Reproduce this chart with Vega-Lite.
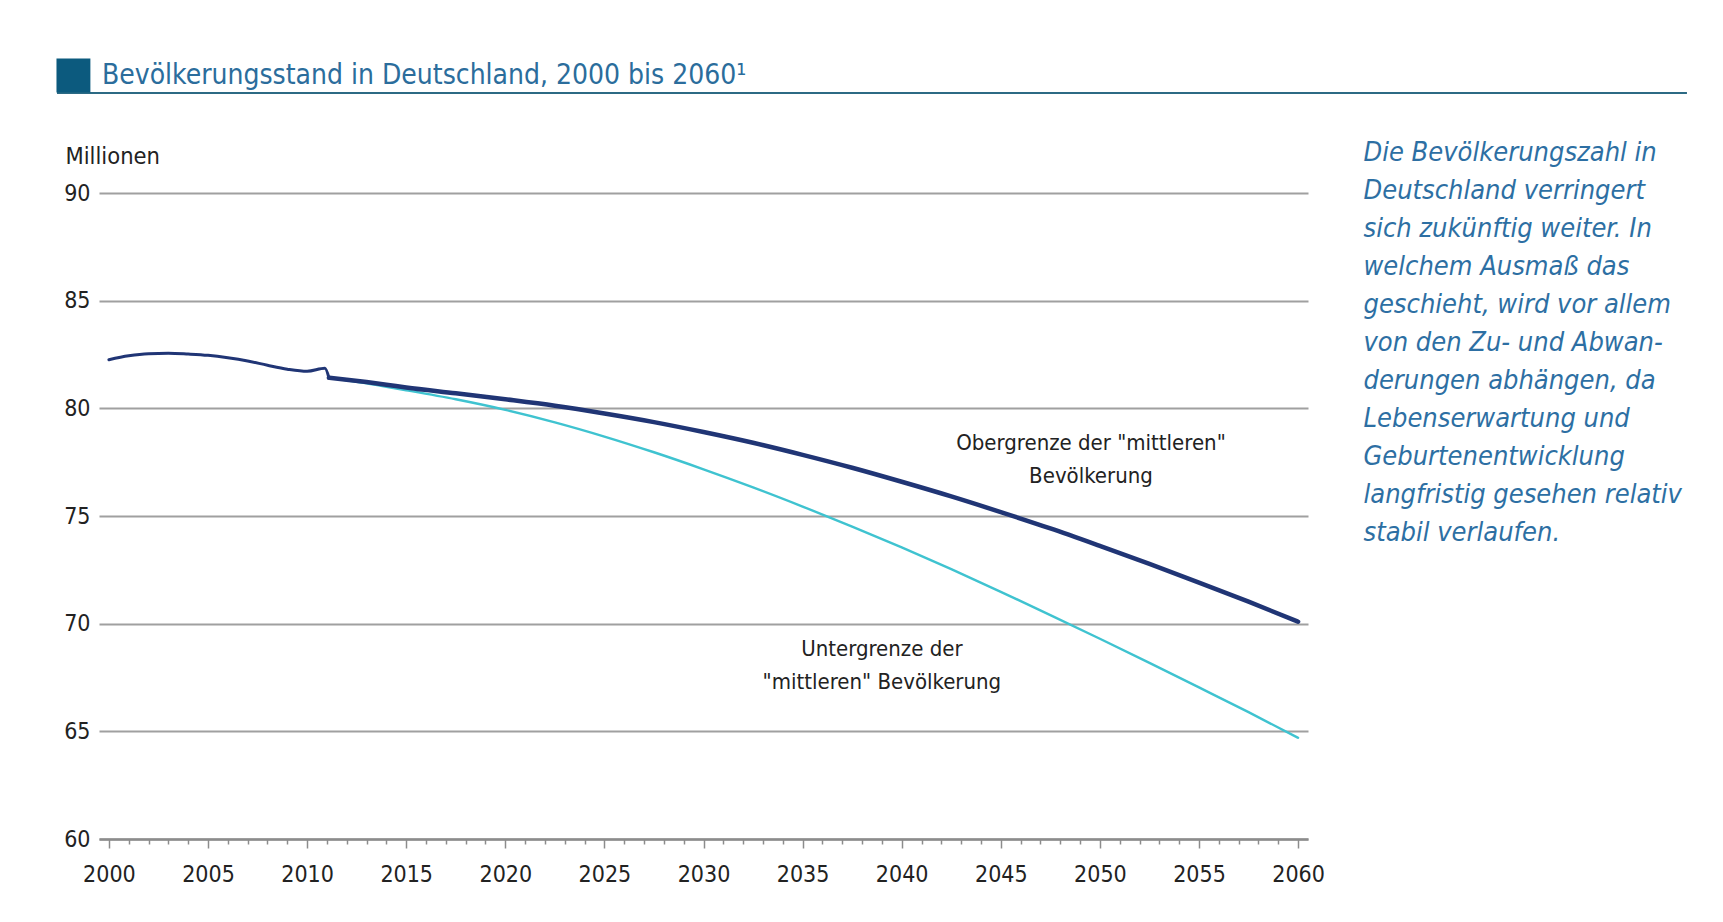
{
  "$schema": "https://vega.github.io/schema/vega-lite/v6.json",
  "autosize": {"type": "none"},
  "width": 1209,
  "height": 646,
  "padding": {"left": 99, "top": 193, "right": 415, "bottom": 83},
  "background": "white",
  "config": {
    "view": {"stroke": null},
    "font": "Liberation Sans Narrow, DejaVu Sans Condensed, Roboto, sans-serif"
  },
  "datasets": {
    "reihen": [
      {"jahr": 2011.1, "mio": 81.42, "reihe": "Untergrenze"},
      {"jahr": 2012, "mio": 81.3, "reihe": "Untergrenze"},
      {"jahr": 2013, "mio": 81.16, "reihe": "Untergrenze"},
      {"jahr": 2014, "mio": 81.0, "reihe": "Untergrenze"},
      {"jahr": 2015, "mio": 80.84, "reihe": "Untergrenze"},
      {"jahr": 2017.5, "mio": 80.42, "reihe": "Untergrenze"},
      {"jahr": 2020, "mio": 79.93, "reihe": "Untergrenze"},
      {"jahr": 2022.5, "mio": 79.35, "reihe": "Untergrenze"},
      {"jahr": 2025, "mio": 78.69, "reihe": "Untergrenze"},
      {"jahr": 2027.5, "mio": 77.96, "reihe": "Untergrenze"},
      {"jahr": 2030, "mio": 77.17, "reihe": "Untergrenze"},
      {"jahr": 2032.5, "mio": 76.33, "reihe": "Untergrenze"},
      {"jahr": 2035, "mio": 75.44, "reihe": "Untergrenze"},
      {"jahr": 2037.5, "mio": 74.51, "reihe": "Untergrenze"},
      {"jahr": 2040, "mio": 73.54, "reihe": "Untergrenze"},
      {"jahr": 2042.5, "mio": 72.53, "reihe": "Untergrenze"},
      {"jahr": 2045, "mio": 71.48, "reihe": "Untergrenze"},
      {"jahr": 2047.5, "mio": 70.4, "reihe": "Untergrenze"},
      {"jahr": 2050, "mio": 69.3, "reihe": "Untergrenze"},
      {"jahr": 2052.5, "mio": 68.18, "reihe": "Untergrenze"},
      {"jahr": 2055, "mio": 67.04, "reihe": "Untergrenze"},
      {"jahr": 2057.5, "mio": 65.89, "reihe": "Untergrenze"},
      {"jahr": 2060, "mio": 64.7, "reihe": "Untergrenze"},
      {"jahr": 2000, "mio": 82.26, "reihe": "Bestand"},
      {"jahr": 2001, "mio": 82.44, "reihe": "Bestand"},
      {"jahr": 2002, "mio": 82.54, "reihe": "Bestand"},
      {"jahr": 2003, "mio": 82.56, "reihe": "Bestand"},
      {"jahr": 2004, "mio": 82.52, "reihe": "Bestand"},
      {"jahr": 2005, "mio": 82.46, "reihe": "Bestand"},
      {"jahr": 2006, "mio": 82.35, "reihe": "Bestand"},
      {"jahr": 2007, "mio": 82.2, "reihe": "Bestand"},
      {"jahr": 2008, "mio": 82.0, "reihe": "Bestand"},
      {"jahr": 2009, "mio": 81.82, "reihe": "Bestand"},
      {"jahr": 2010, "mio": 81.72, "reihe": "Bestand"},
      {"jahr": 2010.9, "mio": 81.86, "reihe": "Bestand"},
      {"jahr": 2011.1, "mio": 81.42, "reihe": "Bestand"},
      {"jahr": 2011.1, "mio": 81.42, "reihe": "Obergrenze"},
      {"jahr": 2012, "mio": 81.33, "reihe": "Obergrenze"},
      {"jahr": 2013, "mio": 81.22, "reihe": "Obergrenze"},
      {"jahr": 2014, "mio": 81.1, "reihe": "Obergrenze"},
      {"jahr": 2015, "mio": 80.97, "reihe": "Obergrenze"},
      {"jahr": 2017.5, "mio": 80.7, "reihe": "Obergrenze"},
      {"jahr": 2020, "mio": 80.42, "reihe": "Obergrenze"},
      {"jahr": 2022.5, "mio": 80.12, "reihe": "Obergrenze"},
      {"jahr": 2025, "mio": 79.76, "reihe": "Obergrenze"},
      {"jahr": 2027.5, "mio": 79.36, "reihe": "Obergrenze"},
      {"jahr": 2030, "mio": 78.9, "reihe": "Obergrenze"},
      {"jahr": 2032.5, "mio": 78.4, "reihe": "Obergrenze"},
      {"jahr": 2035, "mio": 77.84, "reihe": "Obergrenze"},
      {"jahr": 2037.5, "mio": 77.24, "reihe": "Obergrenze"},
      {"jahr": 2040, "mio": 76.59, "reihe": "Obergrenze"},
      {"jahr": 2042.5, "mio": 75.91, "reihe": "Obergrenze"},
      {"jahr": 2045, "mio": 75.18, "reihe": "Obergrenze"},
      {"jahr": 2047.5, "mio": 74.42, "reihe": "Obergrenze"},
      {"jahr": 2050, "mio": 73.61, "reihe": "Obergrenze"},
      {"jahr": 2052.5, "mio": 72.78, "reihe": "Obergrenze"},
      {"jahr": 2055, "mio": 71.91, "reihe": "Obergrenze"},
      {"jahr": 2057.5, "mio": 71.02, "reihe": "Obergrenze"},
      {"jahr": 2060, "mio": 70.09, "reihe": "Obergrenze"}
    ]
  },
  "layer": [
    {
      "data": {"name": "reihen"},
      "transform": [{"filter": "datum.reihe === 'Untergrenze'"}],
      "mark": {"type": "line", "interpolate": "monotone", "strokeCap": "round", "color": "#3fc3d0", "strokeWidth": 2.4},
      "encoding": {
        "x": {
          "field": "jahr", "type": "quantitative",
          "scale": {"domain": [1999.5, 2060.5], "nice": false, "zero": false},
          "axis": {
            "title": null,
            "tickCount": 61,
            "values": [2000,2001,2002,2003,2004,2005,2006,2007,2008,2009,2010,2011,2012,2013,2014,2015,2016,2017,2018,2019,2020,2021,2022,2023,2024,2025,2026,2027,2028,2029,2030,2031,2032,2033,2034,2035,2036,2037,2038,2039,2040,2041,2042,2043,2044,2045,2046,2047,2048,2049,2050,2051,2052,2053,2054,2055,2056,2057,2058,2059,2060],
            "labelExpr": "datum.value % 5 === 0 ? format(datum.value, 'd') : ''",
            "labelOverlap": false,
            "labelFlush": false,
            "grid": false,
            "domainColor": "#8c8c8c",
            "domainWidth": 2.5,
            "tickColor": "#8c8c8c",
            "tickWidth": 1.5,
            "tickSize": {"condition": {"test": "datum.value % 5 === 0", "value": 9}, "value": 5},
            "labelPadding": 15,
            "labelFontSize": 23,
            "labelColor": "#222222"
          }
        },
        "y": {
          "field": "mio", "type": "quantitative",
          "scale": {"domain": [60, 90], "nice": false, "zero": false},
          "axis": {
            "values": [60, 65, 70, 75, 80, 85, 90],
            "grid": true,
            "gridColor": "#a0a0a0",
            "gridWidth": 2,
            "domain": false,
            "ticks": false,
            "labelPadding": 9,
            "labelFontSize": 23,
            "labelColor": "#222222",
            "title": "Millionen",
            "titleAngle": 0,
            "titleAlign": "left",
            "titleBaseline": "middle",
            "titleX": -34,
            "titleY": -37,
            "titleFontSize": 23.5,
            "titleFontWeight": "normal",
            "titleColor": "#222222"
          }
        }
      }
    },
    {
      "data": {"name": "reihen"},
      "transform": [{"filter": "datum.reihe === 'Bestand'"}],
      "mark": {"type": "line", "interpolate": "monotone", "strokeCap": "round", "color": "#203575", "strokeWidth": 3},
      "encoding": {
        "x": {"field": "jahr", "type": "quantitative"},
        "y": {"field": "mio", "type": "quantitative"}
      }
    },
    {
      "data": {"name": "reihen"},
      "transform": [{"filter": "datum.reihe === 'Obergrenze'"}],
      "mark": {"type": "line", "interpolate": "monotone", "strokeCap": "round", "color": "#203575", "strokeWidth": 4.5},
      "encoding": {
        "x": {"field": "jahr", "type": "quantitative"},
        "y": {"field": "mio", "type": "quantitative"}
      }
    },
    {
      "data": {"values": [{}]},
      "mark": {"type": "text", "align": "center", "baseline": "alphabetic", "fontSize": 22, "color": "#222222", "lineHeight": 33, "text": ["Obergrenze der \"mittleren\"", "Bevölkerung"]},
      "encoding": {"x": {"datum": 2049.55}, "y": {"datum": 78.06}}
    },
    {
      "data": {"values": [{}]},
      "mark": {"type": "text", "align": "center", "baseline": "alphabetic", "fontSize": 22, "color": "#222222", "lineHeight": 33, "text": ["Untergrenze der", "\"mittleren\" Bevölkerung"]},
      "encoding": {"x": {"datum": 2039.0}, "y": {"datum": 68.5}}
    },
    {
      "data": {"values": [{}]},
      "mark": {"type": "text", "align": "left", "baseline": "alphabetic", "fontSize": 27, "fontStyle": "italic", "color": "#2d6fa3", "lineHeight": 38,
        "text": ["Die Bevölkerungszahl in", "Deutschland verringert", "sich zukünftig weiter. In", "welchem Ausmaß das", "geschieht, wird vor allem", "von den Zu- und Abwan-", "derungen abhängen, da", "Lebenserwartung und", "Geburtenentwicklung", "langfristig gesehen relativ", "stabil verlaufen."]},
      "encoding": {"x": {"datum": 2063.3}, "y": {"datum": 91.49}}
    },
    {
      "data": {"values": [{}]},
      "mark": {"type": "text", "align": "left", "baseline": "alphabetic", "fontSize": 28, "color": "#2b6d9c", "text": "Bevölkerungsstand in Deutschland, 2000 bis 2060¹"},
      "encoding": {"x": {"datum": 1999.65}, "y": {"datum": 95.06}}
    },
    {
      "data": {"values": [{}]},
      "mark": {"type": "rule", "color": "#2c6a84", "strokeWidth": 2},
      "encoding": {"x": {"datum": 1997.38}, "x2": {"datum": 2079.62}, "y": {"datum": 94.64}}
    },
    {
      "data": {"values": [{}]},
      "mark": {"type": "point", "shape": "square", "filled": true, "opacity": 1, "size": 1150, "color": "#0c5a7e"},
      "encoding": {"x": {"datum": 1998.21}, "y": {"datum": 95.46}}
    }
  ]
}
